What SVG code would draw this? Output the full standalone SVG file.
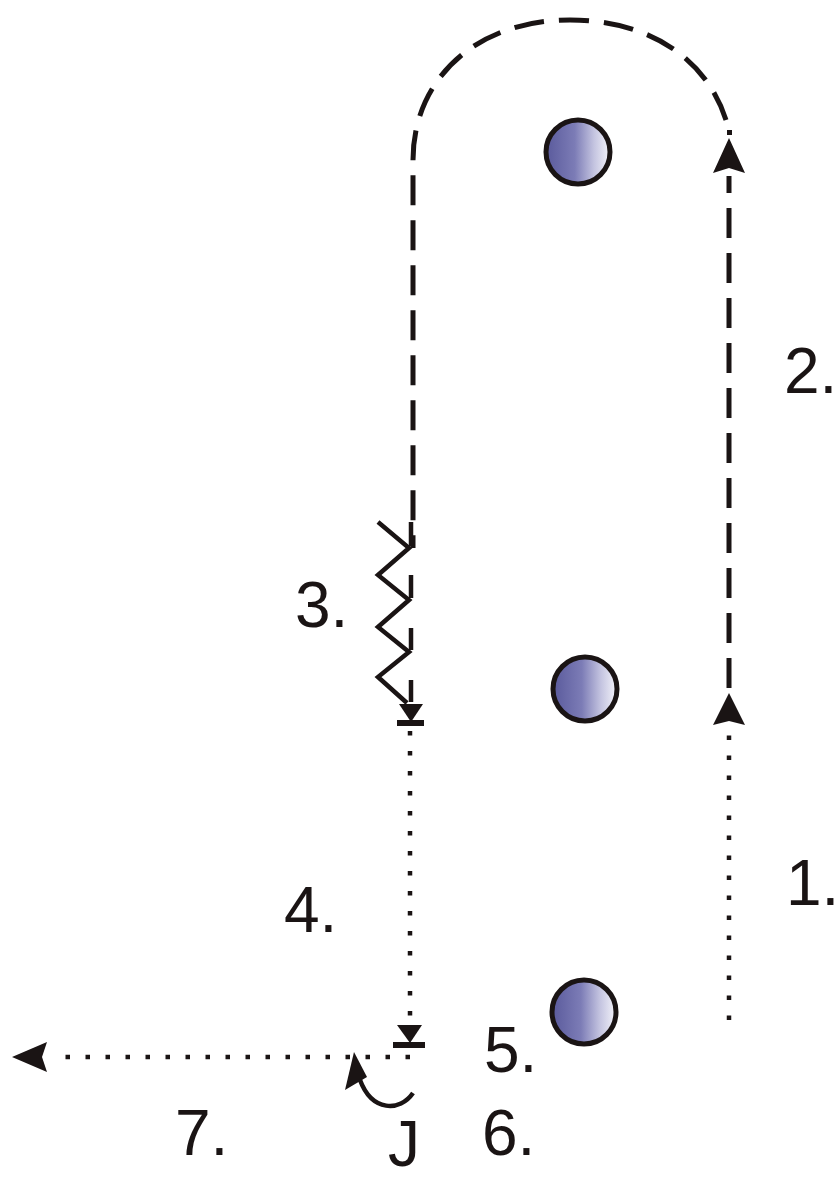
<svg xmlns="http://www.w3.org/2000/svg" width="840" height="1180" viewBox="0 0 840 1180">
<defs>
<linearGradient id="cone" x1="0" y1="0" x2="1" y2="0">
<stop offset="0" stop-color="#5a5a9c"/>
<stop offset="0.45" stop-color="#7c7cb6"/>
<stop offset="0.75" stop-color="#c4c4e0"/>
<stop offset="1" stop-color="#f4f4fa"/>
</linearGradient>
<style>
.cone{fill:url(#cone);stroke:#1a1414;stroke-width:5}
.dash{fill:none;stroke:#1a1414;stroke-width:5;stroke-dasharray:30 15}
.dot{fill:none;stroke:#1a1414;stroke-width:4.5;stroke-dasharray:4.5 15.5}
.solid{fill:none;stroke:#1a1414;stroke-width:4.5}
.head{fill:#1a1414;stroke:none}
.lbl{font-family:"Liberation Sans",Arial,sans-serif;font-size:64px;fill:#1a1414}
</style>
</defs>
<g id="cone1"><circle class="cone" cx="578" cy="152" r="32"/></g>
<g id="cone2"><circle class="cone" cx="585" cy="689" r="32"/></g>
<g id="cone3"><circle class="cone" cx="584" cy="1012" r="32"/></g>
<g id="connectors">
<path class="dot" d="M729,1020 V730"/>
<polygon class="head" points="729,693 745,725 729,721 713,725"/>
<path class="dash" d="M729,688 V176"/>
<polygon class="head" points="729,138 745,173 729,168 713,173"/>
<rect class="head" x="727" y="130" width="5" height="5"/>
<path class="dash" d="M726,120 C705,55 645,20 570,20 C475,20 413,80 413,160 V548"/>
<polyline class="solid" points="378,522 409,548 378,575 409,600 378,627 409,652 378,677 407,703"/>
<path class="solid" d="M411,522 V546 M411,575 V598 M411,628 V650 M411,680 V702"/>
<polygon class="head" points="399,704 423,704 411,722"/>
<rect class="head" x="397" y="720" width="27" height="6"/>
<path class="dot" d="M410,731 V1022"/>
<polygon class="head" points="397,1025 422,1025 410,1043"/>
<rect class="head" x="393" y="1042" width="32" height="6"/>
<path class="dot" d="M410,1057 H55"/>
<polygon class="head" points="12,1057 47,1042 42,1057 47,1072"/>
<path class="solid" d="M413,1093 C400,1112 372,1112 360,1080"/>
<polygon class="head" points="354,1052 345,1090 367,1077"/>
</g>
<g id="labels">
<text class="lbl" x="786" y="905">1.</text>
<text class="lbl" x="784" y="393">2.</text>
<text class="lbl" x="295" y="627">3.</text>
<text class="lbl" x="284" y="932">4.</text>
<text class="lbl" x="484" y="1072">5.</text>
<text class="lbl" x="482" y="1155">6.</text>
<text class="lbl" x="175" y="1155">7.</text>
<text class="lbl" x="388" y="1166">J</text>
</g>
</svg>
